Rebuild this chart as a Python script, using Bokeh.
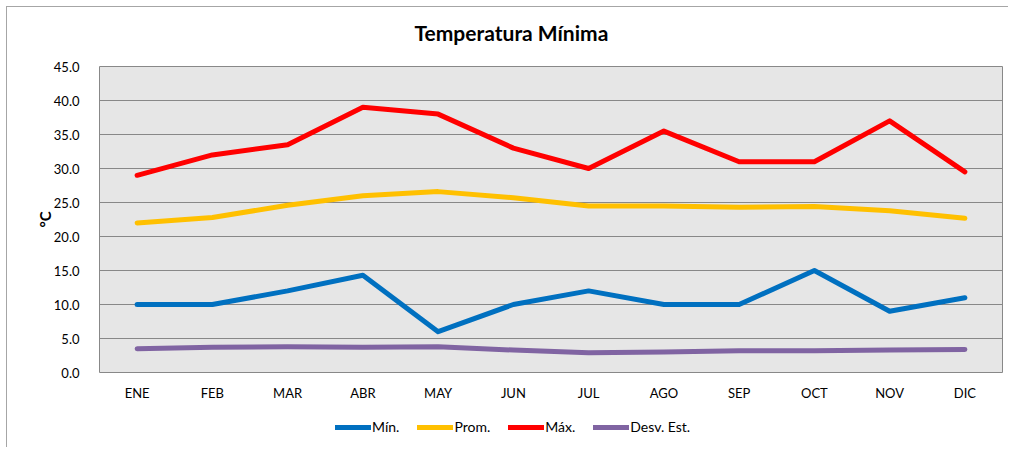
from bokeh.plotting import figure
from bokeh.layouts import column
from bokeh.models import Legend, LegendItem, ColumnDataSource, SingleIntervalTicker, NumeralTickFormatter, Range1d, Label
from bokeh.embed import file_html
from bokeh.resources import INLINE

months = ["ENE", "FEB", "MAR", "ABR", "MAY", "JUN", "JUL", "AGO", "SEP", "OCT", "NOV", "DIC"]
t_min = [10, 10, 12, 14.3, 6, 10, 12, 10, 10, 15, 9, 11]
t_prom = [22, 22.8, 24.6, 26, 26.6, 25.7, 24.5, 24.5, 24.3, 24.4, 23.8, 22.7]
t_max = [29, 32, 33.5, 39, 38, 33, 30, 35.5, 31, 31, 37, 29.5]
t_desv = [3.5, 3.7, 3.8, 3.7, 3.8, 3.3, 2.9, 3.0, 3.2, 3.2, 3.3, 3.4]

series = [("Mín.", t_min, "#0070C0"), ("Prom.", t_prom, "#FFC000"),
          ("Máx.", t_max, "#FF0000"), ("Desv. Est.", t_desv, "#8064A2")]
title_text = "Temperatura Mínima"

FONT = "Lato"

# title strip
tp = figure(x_range=Range1d(0, 1), y_range=Range1d(0, 51), width=1001, height=51,
            output_backend="svg", toolbar_location=None,
            min_border_left=0, min_border_right=0, min_border_top=0, min_border_bottom=0)
tp.axis.visible = False
tp.grid.visible = False
tp.outline_line_color = None
tp.background_fill_color = "white"
tp.border_fill_color = "white"
tp.add_layout(Label(x=315, y=26, x_units="screen", y_units="data", text=title_text,
                    text_font=FONT, text_font_size="21px", text_font_style="bold",
                    text_color="#000000", text_align="left", text_baseline="middle"))

p = figure(x_range=months, y_range=Range1d(0, 45), width=1001, height=346,
           output_backend="svg", toolbar_location=None,
           min_border_left=92, min_border_right=6, min_border_top=8, min_border_bottom=32)

p.background_fill_color = "#e6e6e6"
p.border_fill_color = "white"
p.outline_line_color = "#888888"
p.outline_line_width = 1

p.xgrid.grid_line_color = None
p.ygrid.grid_line_color = "#888888"
p.ygrid.grid_line_width = 1

p.yaxis.ticker = SingleIntervalTicker(interval=5)
p.yaxis.formatter = NumeralTickFormatter(format="0.0")
for ax in (p.xaxis[0], p.yaxis[0]):
    ax.axis_line_color = None
    ax.major_tick_line_color = None
    ax.minor_tick_line_color = None
    ax.major_label_text_font = FONT
    ax.major_label_text_font_size = "13px"
    ax.major_label_text_color = "#000000"
p.yaxis.major_label_standoff = 14
p.xaxis.major_label_standoff = 6
p.yaxis.axis_label = "°C"
p.yaxis.axis_label_text_font = FONT
p.yaxis.axis_label_text_font_size = "15px"
p.yaxis.axis_label_text_font_style = "bold"
p.yaxis.axis_label_text_color = "#000000"
p.yaxis.axis_label_standoff = -3

# legend-only strip below the chart; its lines lie outside its view
lp = figure(x_range=months, y_range=Range1d(1000, 1001), width=1001, height=43,
            output_backend="svg", toolbar_location=None,
            min_border_left=0, min_border_right=0, min_border_top=0, min_border_bottom=0)
lp.axis.visible = False
lp.grid.visible = False
lp.outline_line_color = None
lp.background_fill_color = "white"
lp.border_fill_color = "white"

items = []
for name, vals, color in series:
    src = ColumnDataSource(dict(x=months, y=vals))
    p.line("x", "y", source=src, line_color=color, line_width=5, line_cap="round", line_join="round")
    r = lp.line("x", "y", source=src, line_color=color, line_width=5, line_cap="round")
    items.append(LegendItem(label=name, renderers=[r]))

legend = Legend(items=items, orientation="horizontal", location=(236, 12),
                glyph_width=36, glyph_height=10, label_standoff=1, spacing=18,
                label_text_font=FONT, label_text_font_size="14px", label_text_color="#000000",
                border_line_color=None, background_fill_alpha=0,
                margin=0, padding=0)
lp.add_layout(legend, "center")

layout = column(tp, p, lp, spacing=0)
layout.styles = {"border-left": "1px solid #a6a6a6", "border-top": "1px solid #a6a6a6",
                 "margin-left": "6px", "margin-top": "6px", "background-color": "white"}

open("out.html", "w").write(file_html(layout, INLINE))
